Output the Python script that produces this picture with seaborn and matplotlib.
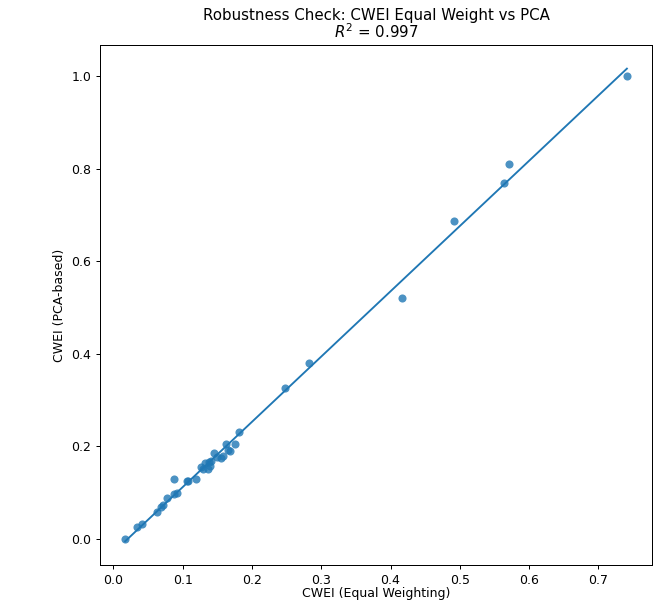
import matplotlib
matplotlib.use("Agg")
import matplotlib.pyplot as plt
import seaborn as sns
import numpy as np
import pandas as pd

cwei_equal = [0.017, 0.034, 0.042, 0.063, 0.069, 0.072, 0.078, 0.088, 0.092, 0.088,
              0.106, 0.108, 0.120, 0.127, 0.130, 0.133, 0.136, 0.138, 0.140, 0.141,
              0.145, 0.150, 0.155, 0.158, 0.163, 0.165, 0.168, 0.175, 0.181,
              0.248, 0.282, 0.416, 0.492, 0.563, 0.571, 0.741]
cwei_pca = [0.000, 0.025, 0.032, 0.057, 0.068, 0.073, 0.088, 0.096, 0.099, 0.130,
            0.126, 0.125, 0.129, 0.155, 0.150, 0.163, 0.152, 0.167, 0.158, 0.168,
            0.185, 0.178, 0.175, 0.180, 0.205, 0.193, 0.190, 0.204, 0.230,
            0.325, 0.379, 0.520, 0.686, 0.768, 0.810, 1.000]

title_text = "Robustness Check: CWEI Equal Weight vs PCA\n$R^2$ = 0.997"

df = pd.DataFrame({"equal": cwei_equal, "pca": cwei_pca})

DPI = 90
fig = plt.figure(figsize=(653 / DPI, 603 / DPI), dpi=DPI)
ax = fig.add_axes([100/653, 1 - 565/603, 552/653, 520/603])

sns.regplot(data=df, x="equal", y="pca", ax=ax, ci=None, color="#1f77b4",
            scatter_kws={"s": 42, "alpha": 0.8, "linewidths": 0},
            line_kws={"lw": 1.5})

ax.set_title(title_text, fontsize=12, linespacing=0.95)
ax.set_xlabel("CWEI (Equal Weighting)", fontsize=10, labelpad=0.5)
ax.set_ylabel("CWEI (PCA-based)", fontsize=10)
ax.set_xticks([0.0, 0.1, 0.2, 0.3, 0.4, 0.5, 0.6, 0.7])
ax.set_yticks([0.0, 0.2, 0.4, 0.6, 0.8, 1.0])

fig.savefig("out.png", dpi=DPI)
